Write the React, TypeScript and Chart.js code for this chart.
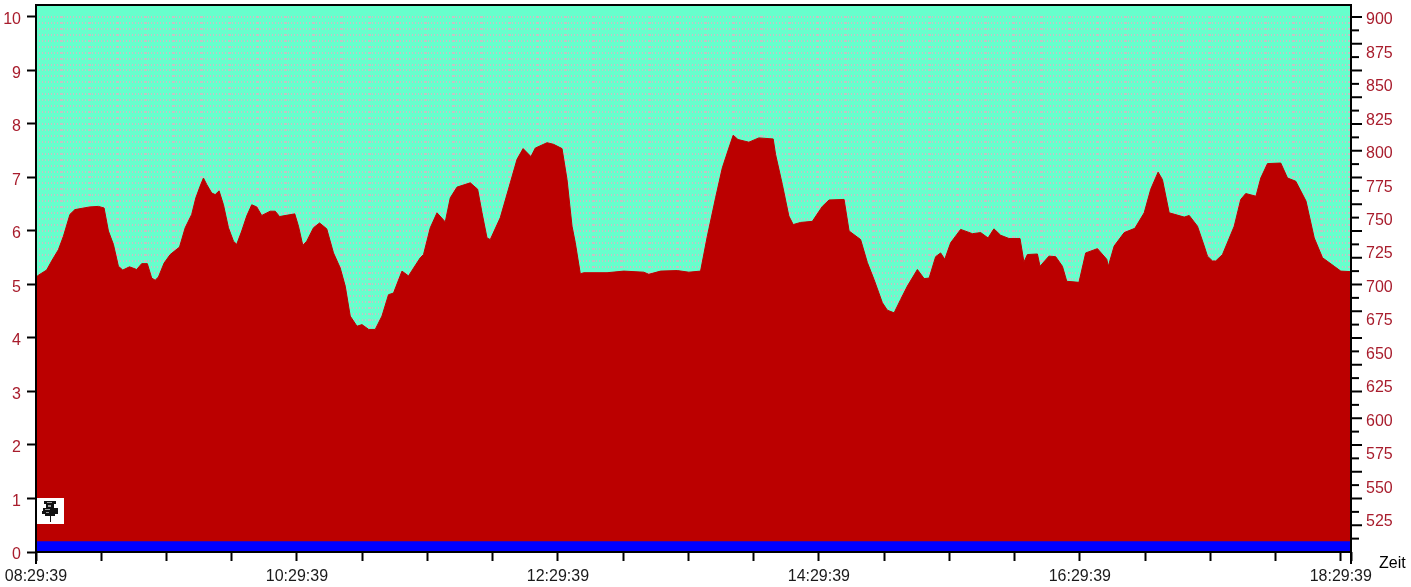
import React, { useEffect, useRef } from "react";
import { Chart, registerables } from "chart.js";

Chart.register(...registerables);

// minutes since 08:29:39
const minutes = [0,0.6,4.9,7.2,10.3,12.6,15.6,17.9,24.8,28.7,31.3,33.3,35.6,37.9,39.9,43,46.3,48.6,51.2,53.2,54.8,56.3,58.9,61.7,66,68.6,71.6,73.5,75.5,77,78.5,80.8,82.4,84.2,86.2,88.5,90.8,92.3,94.6,96.9,99.2,101.5,103.8,107.7,110,112,119,120.7,122.7,124.5,127.6,130.4,133.7,136.8,139.9,142.2,144.5,147.6,149.9,153,156,159.1,162.1,164.4,168.3,171.3,176.7,178.2,181.3,184.4,188.2,190.5,193.6,199.7,203.1,205.1,207.4,208.9,213.5,218.1,221.2,224,227.6,229.6,235,238,241.9,244.2,246.5,248,250.3,251.9,262.6,270.3,279.5,281.8,287.2,294.9,300.2,305.6,308.7,312.5,315.6,318.6,320.6,322.8,327.8,332.4,339,340.1,343.2,346.2,348.2,351.6,357,361.6,364.7,371.6,373.9,379.2,382.3,385.4,389.2,391.5,394.6,397.6,400.7,405.3,408.4,410.7,413.7,416,417.9,420.6,425.2,430.6,434.4,437.8,440.5,443.6,447.4,452.5,454.3,455.9,460.5,461.7,465.8,468.9,472,474,479.6,482.7,488.1,492.4,493.1,495.8,500.4,505.3,509.6,512.6,516,518,521.1,528,530.3,534.1,537.2,538.7,541,542.5,545.6,551,554,556.3,561,563.2,566.3,572.4,575.5,579.3,584,587.8,591.6,597,600,604.7];
const levels = [5.13,5.16,5.27,5.44,5.65,5.9,6.31,6.4,6.45,6.46,6.43,6,5.75,5.34,5.27,5.33,5.28,5.39,5.39,5.12,5.08,5.14,5.4,5.56,5.7,6.06,6.31,6.62,6.84,6.99,6.87,6.71,6.68,6.75,6.49,6.06,5.81,5.75,6,6.28,6.49,6.45,6.29,6.37,6.37,6.27,6.32,6.09,5.73,5.81,6.06,6.15,6.04,5.59,5.31,4.97,4.41,4.22,4.25,4.16,4.16,4.41,4.81,4.84,5.25,5.16,5.5,5.56,6.06,6.34,6.17,6.62,6.82,6.9,6.78,6.34,5.87,5.84,6.25,6.9,7.34,7.54,7.39,7.55,7.65,7.62,7.54,6.96,6.09,5.78,5.2,5.22,5.22,5.25,5.23,5.19,5.25,5.26,5.23,5.25,5.9,6.62,7.18,7.55,7.79,7.71,7.66,7.74,7.72,7.43,6.87,6.28,6.12,6.16,6.18,6.46,6.58,6.59,6,5.84,5.41,5.09,4.66,4.52,4.47,4.72,4.97,5.28,5.11,5.12,5.52,5.59,5.47,5.78,6.03,5.95,5.97,5.87,6.04,5.92,5.86,5.86,5.42,5.56,5.57,5.34,5.53,5.52,5.34,5.06,5.04,5.59,5.67,5.47,5.34,5.72,5.97,6.05,6.34,6.78,7.1,6.96,6.34,6.26,6.29,6.09,5.72,5.53,5.44,5.44,5.56,6.09,6.59,6.7,6.65,6.99,7.26,7.27,6.99,6.93,6.56,5.87,5.5,5.34,5.25,5.24];
const baseLevel = 0.2;
const xEnd = 604.7;
const xTickMinutes = [0,30,60,90,120,150,180,210,240,270,300,330,360,390,420,450,480,510,540,570,600,xEnd];
const xTickLabels: Record<number, string> = { 0: "08:29:39", 120: "10:29:39", 240: "12:29:39", 360: "14:29:39", 480: "16:29:39", 600: "18:29:39" };
const leftTicks = [0,1,2,3,4,5,6,7,8,9,10];
const rightLabels = [525,550,575,600,625,650,675,700,725,750,775,800,825,850,875,900];
const rightMarks = [510,520,530,540,550,560,570,580,590,600,610,620,630,640,650,660,670,680,690,700,710,720,730,740,750,760,770,780,790,800,810,820,830,840,850,860,870,880,890,900];
const gridRows = Array.from({ length: 90 }, (_, i) => (i + 1) / 9);

const FONT = "'Liberation Sans', Arial, sans-serif";
const LABEL_RED = "#a81c2c";
const dash: number[] = [];
for (let i = 0; i < 8; i++) dash.push(1, 2);
dash.push(3, 1);

const noPad = (s: any) => {
  s.paddingTop = 0;
  s.paddingBottom = 0;
  s.paddingLeft = 0;
  s.paddingRight = 0;
};

const decor = {
  id: "decor",
  beforeDatasetsDraw(chart: any) {
    const { ctx, chartArea: a, scales } = chart;
    ctx.save();
    ctx.strokeStyle = "#c4c4c4";
    ctx.lineWidth = 2;
    ctx.setLineDash(dash);
    for (const v of gridRows) {
      const y = Math.round(scales.y.getPixelForValue(v));
      ctx.beginPath();
      ctx.moveTo(a.left, y);
      ctx.lineTo(a.right, y);
      ctx.stroke();
    }
    ctx.restore();
  },
  afterDatasetsDraw(chart: any) {
    const { ctx, chartArea: a, scales } = chart;
    ctx.save();
    ctx.strokeStyle = "#000";
    ctx.lineWidth = 2;
    ctx.strokeRect(a.left, a.top, a.right - a.left, a.bottom - a.top);
    for (const v of rightMarks) {
      const y = scales.y1.getPixelForValue(v);
      const long = (v - 500) % 20 === 0;
      ctx.beginPath();
      ctx.moveTo(a.right, y);
      ctx.lineTo(a.right + (long ? 11 : 8), y);
      ctx.stroke();
    }
    for (const x of [a.left, a.right]) {
      ctx.beginPath();
      ctx.moveTo(x, a.bottom);
      ctx.lineTo(x, a.bottom + 12);
      ctx.stroke();
    }
    ctx.fillStyle = "#000";
    ctx.font = `16px ${FONT}`;
    ctx.textAlign = "left";
    ctx.textBaseline = "middle";
    ctx.fillText("Zeit", 1379, 564);

    // pushpin badge
    const bx = a.left + 1;
    const by = Math.round(scales.y.getPixelForValue(1));
    ctx.fillStyle = "#fff";
    ctx.fillRect(bx, by, 27, 26);
    const cx = bx + 13;
    ctx.fillStyle = "#111";
    ctx.fillRect(cx - 6, by + 3, 12, 3);
    ctx.fillRect(cx - 4, by + 6, 8, 4);
    ctx.fillRect(cx - 7, by + 10, 15, 3);
    ctx.fillRect(cx - 8, by + 13, 16, 3);
    ctx.fillRect(cx - 5, by + 16, 10, 2);
    ctx.fillRect(cx, by + 18, 1, 6);
    ctx.fillStyle = "#9a9a9a";
    ctx.fillRect(cx - 3, by + 4, 5, 1);
    ctx.fillRect(cx - 2, by + 7, 3, 2);
    ctx.fillRect(cx - 5, by + 11, 5, 1);
    ctx.fillRect(cx - 4, by + 14, 3, 1);
    ctx.restore();
  },
};

export default function App() {
  const ref = useRef<HTMLCanvasElement>(null);
  useEffect(() => {
    document.body.style.margin = "0";
    const points = minutes.map((x, i) => ({ x, y: levels[i] }));
    const chart = new Chart(ref.current!, {
      type: "line",
      data: {
        datasets: [
          {
            data: [{ x: 0, y: baseLevel }, { x: xEnd, y: baseLevel }],
            borderColor: "#0000ff",
            backgroundColor: "#0000ff",
            borderWidth: 0,
            pointRadius: 0,
            fill: "origin",
          },
          {
            data: points,
            borderColor: "#bb0000",
            backgroundColor: "#bb0000",
            borderWidth: 1,
            pointRadius: 0,
            tension: 0,
            fill: "origin",
          },
        ],
      },
      options: {
        animation: false,
        responsive: false,
        parsing: false,
        layout: { padding: { top: 5, left: 0, right: 0, bottom: 0 } },
        plugins: { legend: { display: false }, tooltip: { enabled: false }, title: { display: false } },
        scales: {
          x: {
            type: "linear",
            min: 0,
            max: xEnd,
            afterFit: (s: any) => { s.height = 35; noPad(s); },
            afterBuildTicks: (s: any) => { s.ticks = xTickMinutes.map((value) => ({ value })); },
            grid: { drawOnChartArea: false, tickLength: 9, tickColor: "#000", tickWidth: 2 },
            border: { display: false },
            ticks: {
              autoSkip: false,
              maxRotation: 0,
              padding: 6,
              color: "#1a1a1a",
              font: { family: FONT, size: 16 },
              callback: (v: any) => xTickLabels[v] ?? "",
            },
          },
          y: {
            position: "left",
            min: 0,
            max: 10.224,
            afterFit: (s: any) => { s.width = 36; noPad(s); },
            afterBuildTicks: (s: any) => { s.ticks = leftTicks.map((value) => ({ value })); },
            grid: { drawOnChartArea: false, tickLength: 9, tickColor: "#000", tickWidth: 2 },
            border: { display: false },
            ticks: { padding: 6, labelOffset: 3, color: LABEL_RED, font: { family: FONT, size: 16 } },
          },
          y1: {
            position: "right",
            min: 500,
            max: 908.96,
            afterFit: (s: any) => { s.width = 60; noPad(s); },
            afterBuildTicks: (s: any) => { s.ticks = rightLabels.map((value) => ({ value })); },
            grid: { drawOnChartArea: false, drawTicks: false },
            border: { display: false },
            ticks: { padding: 15, labelOffset: 3, color: LABEL_RED, font: { family: FONT, size: 16 } },
          },
        },
      },
      plugins: [
        {
          id: "bg",
          beforeDraw(c: any) {
            const { ctx, chartArea: a } = c;
            ctx.save();
            ctx.fillStyle = "#fff";
            ctx.fillRect(0, 0, c.width, c.height);
            ctx.fillStyle = "#66ffcc";
            ctx.fillRect(a.left, a.top, a.right - a.left, a.bottom - a.top);
            ctx.restore();
          },
        },
        decor,
      ],
    } as any);
    return () => chart.destroy();
  }, []);
  return <canvas ref={ref} width={1411} height={587} style={{ display: "block", width: 1411, height: 587 }} />;
}
